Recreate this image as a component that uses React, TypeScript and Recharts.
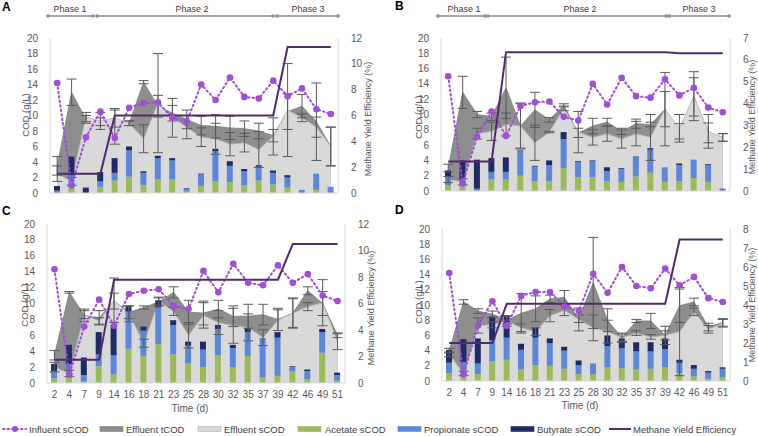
import { ComposedChart, Area, Bar, Line, XAxis, YAxis, ErrorBar } from 'recharts';

const days = [2, 4, 7, 9, 14, 16, 18, 21, 23, 25, 28, 30, 32, 35, 37, 39, 42, 46, 49, 51];

// Panel A
const acetateA = [0, 0.7, 0, 0.8, 1.6, 2.1, 1.0, 1.8, 1.8, 0.2, 0.9, 1.5, 1.4, 1.0, 1.6, 1.1, 0.7, 0, 0.4, 0];
const propionateA = [0.3, 1.6, 0, 0.7, 1.0, 3.4, 1.6, 2.7, 2.4, 0.3, 1.5, 3.9, 2.1, 1.8, 1.8, 1.5, 1.3, 0.4, 2.1, 0.8];
const butyrateA = [0.6, 2.4, 0.7, 1.2, 1.9, 0.5, 0.2, 0.3, 0.3, 0.1, 0.1, 0.3, 0.6, 0.3, 0.2, 0.3, 0.3, 0, 0, 0];
const tcodA = [3.5, 13.0, 9.5, 9.2, 8.5, 9.0, 14.3, 11.2, 10.3, 9.5, 8.7, 8.6, 8.4, 8.3, 8.0, 7.4, 10.5, 11.2, 9.2, 6.0];
const tErrA = [1.2, 1.7, 0.5, 0.5, 2.2, 0.3, 0.2, 1.4, 1.0, 1.2, 1.2, 1.5, 1.5, 1.0, 1.0, 0.8, 2.3, 1.5, 5.0, 2.5];
const scodA = [2.5, 1.5, 9.8, 9.3, 9.7, 9.0, 7.0, 11.6, 9.7, 8.5, 7.2, 7.0, 6.3, 6.5, 5.6, 7.3, 10.7, 9.7, 8.5, 6.0];
const sErrA = [1.0, 0.5, 0.6, 1.1, 1.2, 0.3, 1.8, 6.4, 2.5, 1.5, 1.2, 2.0, 1.5, 1.2, 2.3, 2.4, 6.0, 0.5, 1.3, 2.5];
const influentA = [14.2, 1.0, 7.2, 10.5, 7.1, 11.0, 11.6, 11.7, 9.7, 9.2, 14.0, 12.0, 14.9, 12.4, 12.2, 14.5, 12.5, 13.5, 10.8, 10.2];
const methaneA = [1.5, 1.5, 1.5, 1.5, 6, 6, 6, 6, 6, 6, 6, 6, 6, 6, 6, 6, 11.3, 11.3, 11.3, 11.3];

// Panel B
const acetateB = [0.7, 0.6, 0, 1.5, 1.5, 2.0, 1.3, 1.3, 3.0, 1.8, 1.8, 1.3, 1.2, 1.9, 2.4, 1.2, 1.3, 1.7, 1.2, 0];
const propionateB = [1.1, 0.9, 0.3, 1.0, 1.0, 3.2, 1.9, 2.1, 3.8, 2.0, 2.1, 1.3, 1.7, 2.5, 3.0, 1.9, 2.1, 2.4, 2.2, 0.2];
const butyrateB = [0.9, 2.5, 3.8, 1.8, 1.9, 0.1, 0.1, 0.6, 0.9, 0.1, 0.1, 0.5, 0.1, 0.1, 0.2, 0, 0.2, 0, 0.1, 0.1];
const tcodB = [3.0, 12.9, 10.0, 9.7, 13.5, 8.5, 10.6, 9.3, 11.2, 7.6, 8.5, 9.0, 7.8, 8.8, 8.7, 10.7, 7.8, 12.3, 7.6, 7.0];
const tErrB = [0.5, 2.1, 0.4, 0.5, 4.0, 3.0, 2.3, 0.3, 0.2, 0.6, 1.0, 0.5, 0.4, 0.6, 0.3, 2.3, 1.0, 2.5, 1.3, 0.5];
const scodB = [1.5, 1.2, 7.5, 7.8, 8.7, 8.5, 6.3, 7.7, 10.8, 7.7, 7.0, 7.5, 6.8, 7.5, 7.0, 10.7, 8.2, 12.4, 7.8, 7.0];
const sErrB = [0.4, 0.4, 0.7, 1.2, 1.5, 2.9, 2.3, 0.1, 0.3, 2.7, 1.0, 1.0, 1.2, 1.6, 3.0, 4.8, 1.8, 3.2, 2.2, 0.5];
const influentB = [15.0, 1.0, 7.1, 10.4, 7.2, 11.1, 11.6, 11.7, 9.7, 9.2, 14.0, 11.3, 14.8, 12.4, 12.2, 14.6, 12.5, 13.5, 10.9, 10.3];
const methaneB = [1.35, 1.35, 1.35, 1.35, 6.35, 6.35, 6.35, 6.35, 6.35, 6.35, 6.35, 6.35, 6.35, 6.35, 6.35, 6.35, 6.3, 6.3, 6.3, 6.3];

// Panel C
const acetateC = [0.6, 1.0, 0.2, 2.1, 1.1, 4.3, 3.4, 4.9, 3.6, 2.5, 2.0, 3.5, 2.0, 3.4, 0.7, 0.9, 1.5, 0.5, 3.8, 0.3];
const propionateC = [0.9, 1.4, 0.8, 1.5, 2.4, 4.7, 3.2, 4.6, 3.7, 2.2, 2.2, 3.3, 2.4, 3.0, 4.8, 4.8, 0.5, 1.0, 2.6, 0.7];
const butyrateC = [0.9, 2.4, 2.2, 2.8, 3.8, 0.7, 0.5, 0.9, 0.6, 0.5, 1.0, 0.5, 0.4, 0.5, 0.1, 0.7, 0.1, 0.2, 0.4, 0.3];
const tcodC = [3.5, 11.4, 8.5, 8.2, 10.3, 8.9, 9.5, 10.2, 11.4, 8.9, 8.8, 9.3, 8.4, 8.4, 8.6, 8.0, 8.8, 11.6, 10.0, 6.0];
const tErrC = [0.6, 0.1, 0.8, 0.9, 1.0, 0.8, 0.2, 0.5, 0.7, 1.5, 1.5, 1.1, 1.3, 1.5, 1.3, 1.4, 1.8, 0.5, 1.5, 0.3];
const scodC = [2.0, 1.2, 8.6, 7.8, 10.4, 8.7, 5.0, 10.3, 9.0, 6.0, 8.5, 7.6, 7.2, 7.0, 5.7, 7.9, 8.8, 9.6, 10.1, 5.2];
const sErrC = [0.6, 0.4, 0.5, 0.4, 2.8, 1.0, 0.5, 0.5, 0.5, 1.6, 1.6, 1.5, 2.2, 1.7, 1.0, 1.3, 1.9, 0.5, 2.9, 1.0];
const influentC = [14.3, 1.05, 7.1, 10.5, 7.2, 11.2, 11.6, 11.8, 9.7, 9.3, 14.1, 11.4, 15.0, 12.6, 12.3, 14.8, 12.6, 13.7, 11.0, 10.3];
const methaneC = [1.75, 1.75, 1.75, 1.75, 7.8, 7.8, 7.8, 7.8, 7.8, 7.8, 7.8, 7.8, 7.8, 7.8, 7.8, 7.8, 10.5, 10.5, 10.5, 10.5];

// Panel D
const acetateD = [1.0, 0.8, 0.9, 2.6, 2.8, 1.5, 2.1, 2.0, 1.6, 0.9, 0.9, 1.8, 1.7, 1.5, 1.6, 1.8, 1.0, 0.6, 0.3, 0.5];
const propionateD = [1.4, 1.7, 1.4, 2.8, 2.9, 2.6, 3.6, 3.0, 2.4, 1.2, 1.4, 2.8, 2.6, 2.4, 2.3, 2.4, 1.4, 1.0, 0.8, 1.1];
const butyrateD = [1.7, 3.0, 3.3, 3.1, 2.9, 0.8, 1.3, 0.6, 0.5, 0.6, 0, 1.4, 1.3, 1.2, 1.2, 1.4, 0.4, 0.5, 0.2, 0.2];
const tcodD = [4.0, 10.4, 9.2, 8.8, 8.0, 8.9, 9.5, 10.8, 11.0, 8.2, 12.9, 8.0, 5.7, 7.9, 7.9, 6.0, 9.9, 10.4, 7.1, 7.7];
const tErrD = [0.3, 0.3, 0.3, 0.4, 0.5, 2.6, 1.7, 0.5, 0.9, 0.5, 6.0, 1.5, 0.6, 0.2, 1.0, 1.2, 2.2, 0.5, 0.5, 0.5];
const scodD = [3.5, 1.0, 7.3, 7.4, 7.9, 7.0, 6.5, 8.6, 9.3, 8.1, 7.0, 6.5, 5.7, 6.3, 5.8, 6.0, 6.5, 9.1, 6.8, 7.6];
const sErrD = [0.3, 0.3, 1.0, 0.4, 0.7, 0.5, 0.5, 0.8, 0.7, 1.5, 1.7, 1.5, 0.5, 0.3, 0.3, 0.6, 5.8, 0.5, 0.5, 0.5];
const influentD = [14.2, 0.9, 7.3, 10.5, 7.25, 11.2, 11.7, 11.7, 9.8, 9.2, 14.1, 11.6, 15.0, 12.5, 12.2, 14.8, 12.6, 13.7, 10.9, 10.4];
const methaneD = [2.0, 2.0, 2.0, 2.0, 4.07, 4.07, 4.07, 4.07, 4.07, 4.07, 4.07, 4.07, 4.07, 4.07, 4.07, 4.07, 7.45, 7.45, 7.45, 7.45];

const codTicks = [0, 2, 4, 6, 8, 10, 12, 14, 16, 18, 20];
const phaseLabels = ['Phase 1', 'Phase 2', 'Phase 3'];

const FONT = '"Liberation Sans", Arial, sans-serif';
const TXT = '#595959';
const AXIS = '#d9d9d9';

const C_ACE = '#9bbb59';
const C_PRO = '#5b87da';
const C_BUT = '#1f2a66';
const C_TCOD = '#8e8e8e';
const C_SCOD = '#d9d9d9';
const C_INF = '#a04ed8';
const C_MET = '#4f2a6e';

function buildRows(
  acetate: number[], propionate: number[], butyrate: number[],
  tcod: number[], tErr: number[], scod: number[], sErr: number[],
  influent: number[], methane: number[]
) {
  return days.map((d, i) => ({
    day: String(d),
    acetate: acetate[i],
    propionate: propionate[i],
    butyrate: butyrate[i],
    tcod: tcod[i],
    tErr: tErr[i],
    scod: scod[i],
    sErr: sErr[i],
    influent: influent[i],
    methane: methane[i],
  }));
}

const rowsA = buildRows(acetateA, propionateA, butyrateA, tcodA, tErrA, scodA, sErrA, influentA, methaneA);
const rowsB = buildRows(acetateB, propionateB, butyrateB, tcodB, tErrB, scodB, sErrB, influentB, methaneB);
const rowsC = buildRows(acetateC, propionateC, butyrateC, tcodC, tErrC, scodC, sErrC, influentC, methaneC);
const rowsD = buildRows(acetateD, propionateD, butyrateD, tcodD, tErrD, scodD, sErrD, influentD, methaneD);

interface PanelProps {
  rows: any[];
  x0: number;
  x1: number;
  y0: number;
  y1: number;
  rightMax: number;
  rightStep: number;
  showDays: boolean;
}

function Panel({ rows, x0, x1, y0, y1, rightMax, rightStep, showDays }: PanelProps) {
  const leftW = 40;
  const rightW = 32;
  const topPad = 8;
  const xh = showDays ? 20 : 1;
  const bottomPad = showDays ? 0 : 7;
  const width = x1 - x0 + leftW + rightW;
  const height = y1 - y0 + topPad + xh + bottomPad;
  const rightTicks: number[] = [];
  for (let v = 0; v <= rightMax + 1e-9; v += rightStep) rightTicks.push(v);
  const tick = { fill: TXT, fontSize: 10, fontFamily: FONT };

  return (
    <div style={{ position: 'absolute', left: x0 - leftW, top: y0 - topPad }}>
      <ComposedChart
        width={width}
        height={height}
        data={rows}
        margin={{ top: topPad, right: 0, bottom: bottomPad, left: 0 }}
      >
        <XAxis
          dataKey="day"
          interval={0}
          tickLine={false}
          axisLine={{ stroke: AXIS }}
          tick={showDays ? tick : false}
          height={xh}
          tickMargin={2}
        />
        <YAxis
          yAxisId="left"
          domain={[0, 20]}
          ticks={codTicks}
          interval={0}
          width={leftW}
          tickLine={false}
          axisLine={{ stroke: AXIS }}
          tick={tick}
          tickMargin={6}
        />
        <YAxis
          yAxisId="right"
          orientation="right"
          domain={[0, rightMax]}
          ticks={rightTicks}
          interval={0}
          width={rightW}
          tickLine={false}
          axisLine={{ stroke: AXIS }}
          tick={tick}
          tickMargin={7}
        />
        <Area yAxisId="left" type="linear" dataKey="tcod" fill={C_TCOD} fillOpacity={1}
          stroke="#7c7c7c" strokeWidth={0.8} dot={false} activeDot={false} isAnimationActive={false} />
        <Area yAxisId="left" type="linear" dataKey="scod" fill={C_SCOD} fillOpacity={1}
          stroke="#b4b4b4" strokeWidth={0.8} dot={false} activeDot={false} isAnimationActive={false} />
        <Bar yAxisId="left" stackId="vfa" dataKey="acetate" fill={C_ACE} barSize={6} isAnimationActive={false} />
        <Bar yAxisId="left" stackId="vfa" dataKey="propionate" fill={C_PRO} barSize={6} isAnimationActive={false} />
        <Bar yAxisId="left" stackId="vfa" dataKey="butyrate" fill={C_BUT} barSize={6} isAnimationActive={false} />
        <Line yAxisId="left" type="linear" dataKey="tcod" stroke="none" dot={false} activeDot={false} isAnimationActive={false}>
          <ErrorBar dataKey="tErr" width={5} stroke="#5a5a5a" strokeWidth={1} direction="y" />
        </Line>
        <Line yAxisId="left" type="linear" dataKey="scod" stroke="none" dot={false} activeDot={false} isAnimationActive={false}>
          <ErrorBar dataKey="sErr" width={5} stroke="#5a5a5a" strokeWidth={1} direction="y" />
        </Line>
        <Line yAxisId="left" type="linear" dataKey="influent" stroke={C_INF} strokeWidth={2}
          strokeDasharray="1.5 3" strokeLinecap="round"
          dot={{ r: 3.3, fill: C_INF, stroke: 'none', strokeDasharray: '0' }} activeDot={false} isAnimationActive={false} />
        <Line yAxisId="right" type="linear" dataKey="methane" stroke={C_MET} strokeWidth={2}
          dot={false} activeDot={false} isAnimationActive={false} />
      </ComposedChart>
    </div>
  );
}

function PhaseBar({ segs, labels, y }: { segs: number[][]; labels: number[]; y: number }) {
  return (
    <g>
      {segs.map((s, i) => (
        <g key={i}>
          <line x1={s[0]} x2={s[1]} y1={y} y2={y} stroke="#8a8a8a" strokeWidth={1.5} />
          <circle cx={s[0]} cy={y} r={1.8} fill="#8a8a8a" />
          <circle cx={s[1]} cy={y} r={1.8} fill="#8a8a8a" />
          <text x={labels[i]} y={y - 4} textAnchor="middle" fontSize={9} fill="#404040">{phaseLabels[i]}</text>
        </g>
      ))}
    </g>
  );
}

function VTitle({ x, y, text, size }: { x: number; y: number; text: string; size: number }) {
  return (
    <text x={x} y={y} transform={`rotate(-90 ${x} ${y})`} textAnchor="middle" dominantBaseline="central"
      fontSize={size} fill={TXT}>{text}</text>
  );
}

function Legend() {
  const y = 429;
  const rect = (x: number, fill: string, stroke: string) => (
    <rect x={x} y={y - 2.5} width={23} height={5} fill={fill} stroke={stroke} strokeWidth={0.6} />
  );
  const label = (x: number, t: string) => (
    <text x={x} y={y} dominantBaseline="central" fontSize={9.5} fill="#404040">{t}</text>
  );
  return (
    <g>
      <line x1={3} x2={26} y1={y} y2={y} stroke={C_INF} strokeWidth={2} strokeDasharray="1.5 3" strokeLinecap="round" />
      <circle cx={15} cy={y} r={3} fill={C_INF} />
      {label(29, 'Influent sCOD')}
      {rect(100, C_TCOD, '#7c7c7c')}
      {label(126, 'Effluent tCOD')}
      {rect(198, C_SCOD, '#b4b4b4')}
      {label(224, 'Effluent sCOD')}
      {rect(298, C_ACE, C_ACE)}
      {label(325, 'Acetate sCOD')}
      {rect(398, C_PRO, C_PRO)}
      {label(424, 'Propionate sCOD')}
      {rect(511, C_BUT, C_BUT)}
      {label(537, 'Butyrate sCOD')}
      <line x1={609} x2={631} y1={y} y2={y} stroke={C_MET} strokeWidth={2} />
      {label(633, 'Methane Yield Efficiency')}
    </g>
  );
}

export default function App() {
  return (
    <div style={{ position: 'absolute', left: 0, top: 0, width: 758, height: 436, background: '#fff', fontFamily: FONT, overflow: 'hidden' }}>
      <Panel rows={rowsA} x0={50} x1={338} y0={38} y1={193} rightMax={12} rightStep={2} showDays={false} />
      <Panel rows={rowsB} x0={441} x1={730} y0={38} y1={191} rightMax={7} rightStep={1} showDays={false} />
      <Panel rows={rowsC} x0={47} x1={345} y0={224} y1={383} rightMax={12} rightStep={2} showDays={true} />
      <Panel rows={rowsD} x0={442} x1={730} y0={229} y1={381} rightMax={8} rightStep={1} showDays={true} />
      <svg width={758} height={436} style={{ position: 'absolute', left: 0, top: 0, pointerEvents: 'none', fontFamily: FONT }}>
        <text x={2} y={11} fontSize={12} fontWeight="bold" fill="#000">A</text>
        <text x={395} y={10} fontSize={12} fontWeight="bold" fill="#000">B</text>
        <text x={2} y={215} fontSize={12} fontWeight="bold" fill="#000">C</text>
        <text x={395} y={214} fontSize={12} fontWeight="bold" fill="#000">D</text>
        <PhaseBar segs={[[48, 93], [97, 273], [277, 338]]} labels={[70, 192, 308]} y={16} />
        <PhaseBar segs={[[438, 485], [488, 666], [669, 729]]} labels={[464, 580, 699]} y={16} />
        <VTitle x={25} y={115} text="COD (g/L)" size={9.5} />
        <VTitle x={368} y={119} text="Methane Yield Efficiency (%)" size={9} />
        <VTitle x={418} y={117} text="COD (g/L)" size={9.5} />
        <VTitle x={752} y={117} text="Methane Yield Efficiency (%)" size={9} />
        <VTitle x={24} y={305} text="COD (g/L)" size={9.5} />
        <VTitle x={371} y={308} text="Methane Yield Efficiency (%)" size={9} />
        <VTitle x={418} y={302} text="COD (g/L)" size={9.5} />
        <VTitle x={752} y={305} text="Methane Yield Efficiency (%)" size={9} />
        <text x={190} y={408} textAnchor="middle" dominantBaseline="central" fontSize={10} fill={TXT}>Time (d)</text>
        <text x={580} y={405} textAnchor="middle" dominantBaseline="central" fontSize={10} fill={TXT}>Time (d)</text>
        <Legend />
      </svg>
    </div>
  );
}
